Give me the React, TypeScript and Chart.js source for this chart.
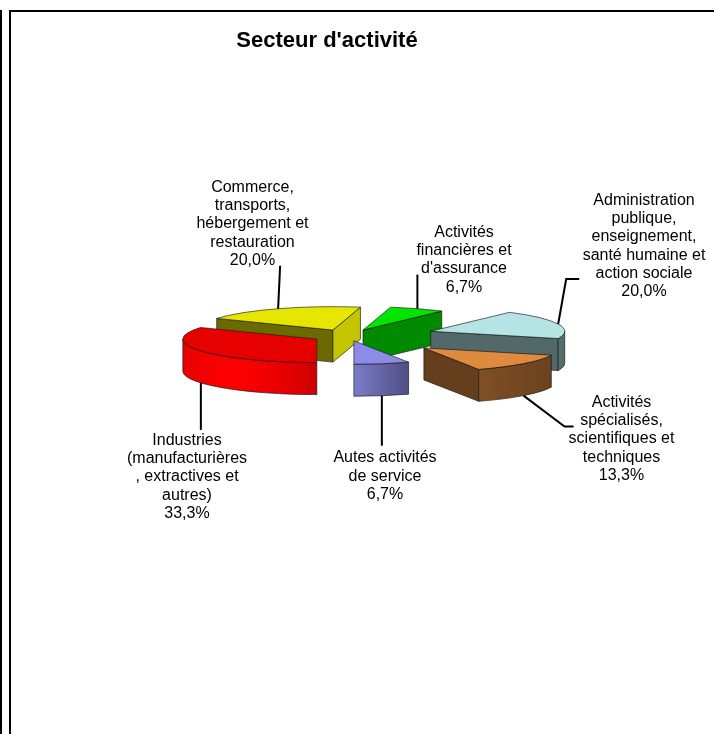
import React, { useEffect, useRef } from "react";
import { Chart, registerables } from "chart.js";

Chart.register(...registerables);

const categories = [
  ["Industries", "(manufacturières", ", extractives et", "autres)"],
  ["Commerce,", "transports,", "hébergement et", "restauration"],
  ["Activités", "financières et", "d'assurance"],
  ["Administration", "publique,", "enseignement,", "santé humaine et", "action sociale"],
  ["Activités", "spécialisés,", "scientifiques et", "techniques"],
  ["Autes activités", "de service"],
];
const shares = [33.3, 20.0, 6.7, 20.0, 13.3, 6.7];
const topColors = ["#e60000", "#e6e600", "#00e600", "#b4e4e4", "#e08a40", "#8c8ce6"];
const explode = [36, 37, 37, 87, 102, 28];
const startWallShade = [0, 0.46, 0, 0, 0, 0];
const endWallShade = [0, 0.85, 0.6, 0.46, 0.45, 0];
const drawOrder = [1, 2, 3, 0, 4, 5];
const labelCentres = [187, 252.5, 464, 644, 621.5, 385];
const labelFirstLine = [440.5, 187.5, 232.5, 200.5, 402.5, 458];
const leaderPaths = [
  [[0, 47]],
  [[2, -43]],
  [[0, -34]],
  [[8, -45], [21, -45]],
  [[41, 31], [50, 31]],
  [[0, 50]],
];

const SQUASH = 0.175;
const DEPTH = 32;
const LINE_H = 18.2;
const FONT = "'Liberation Sans', Arial, sans-serif";
const lightStops = [[-1, 1.0], [-0.65, 1.11], [-0.2, 1.0], [0, 0.88], [0.4, 0.57], [1, 0.47]];

function shade(hex: string, f: number) {
  const n = parseInt(hex.slice(1), 16);
  const c = [(n >> 16) & 255, (n >> 8) & 255, n & 255].map((v) => Math.min(255, Math.round(v * f)));
  return `rgb(${c[0]},${c[1]},${c[2]})`;
}

function light(nx: number) {
  for (let i = 1; i < lightStops.length; i++) {
    const [x0, y0] = lightStops[i - 1];
    const [x1, y1] = lightStops[i];
    if (nx <= x1) return y0 + ((y1 - y0) * (nx - x0)) / (x1 - x0);
  }
  return lightStops[lightStops.length - 1][1];
}

function frontRanges(a0: number, a1: number) {
  const out: number[][] = [];
  for (const base of [0, 2 * Math.PI]) {
    const s = Math.max(a0, base);
    const e = Math.min(a1, base + Math.PI);
    if (e - s > 0.001) out.push([s, e]);
  }
  return out;
}

function geometry(arc: any, i: number) {
  const mid = (arc.startAngle + arc.endAngle) / 2;
  const ax = arc.x + explode[i] * Math.cos(mid);
  const ay = arc.y + explode[i] * Math.sin(mid) * SQUASH;
  const R = arc.outerRadius;
  const at = (a: number, z = 0) => [ax + R * Math.cos(a), ay + R * SQUASH * Math.sin(a) + z];
  return { mid, ax, ay, R, at };
}

const pie3d = {
  id: "pie3d",
  afterLayout(chart: any) {
    chart.titleBlock.left = 177;
    chart.titleBlock.right = 477;
  },
  beforeDraw(chart: any) {
    const { ctx } = chart;
    ctx.save();
    ctx.fillStyle = "#000";
    ctx.fillRect(0, 10, 2, 724);
    ctx.fillRect(9, 10, 2, 724);
    ctx.fillRect(9, 10, 705, 2);
    ctx.restore();
  },
  beforeDatasetsDraw(chart: any) {
    const { ctx } = chart;
    const arcs = chart.getDatasetMeta(0).data;
    ctx.save();
    ctx.lineJoin = "round";
    ctx.lineWidth = 0.8;
    ctx.strokeStyle = "rgba(20,20,20,0.8)";
    for (const i of drawOrder) {
      const arc = arcs[i];
      const { ax, ay, R, at } = geometry(arc, i);
      const a0 = arc.startAngle;
      const a1 = arc.endAngle;
      const col = topColors[i];
      const wall = (a: number, f: number) => {
        const p = at(a);
        ctx.beginPath();
        ctx.moveTo(ax, ay);
        ctx.lineTo(p[0], p[1]);
        ctx.lineTo(p[0], p[1] + DEPTH);
        ctx.lineTo(ax, ay + DEPTH);
        ctx.closePath();
        ctx.fillStyle = shade(col, f);
        ctx.fill();
        ctx.stroke();
      };
      if (Math.cos(a0) < -0.01) wall(a0, startWallShade[i]);
      if (Math.cos(a1) > 0.01) wall(a1, endWallShade[i]);
      for (const [s, e] of frontRanges(a0, a1)) {
        const xL = at(e)[0];
        const xR = at(s)[0];
        const g = ctx.createLinearGradient(xL, 0, xR, 0);
        for (let k = 0; k <= 10; k++) {
          const a = e + ((s - e) * k) / 10;
          g.addColorStop(Math.min(1, Math.max(0, (at(a)[0] - xL) / (xR - xL))), shade(col, light(Math.cos(a))));
        }
        ctx.beginPath();
        ctx.ellipse(ax, ay, R, R * SQUASH, 0, s, e);
        ctx.ellipse(ax, ay + DEPTH, R, R * SQUASH, 0, e, s, true);
        ctx.closePath();
        ctx.fillStyle = g;
        ctx.fill();
        ctx.stroke();
      }
      ctx.beginPath();
      ctx.moveTo(ax, ay);
      ctx.ellipse(ax, ay, R, R * SQUASH, 0, a0, a1);
      ctx.closePath();
      ctx.fillStyle = col;
      ctx.fill();
      ctx.stroke();
    }
    ctx.restore();
    return false;
  },
  afterDraw(chart: any) {
    const { ctx } = chart;
    const arcs = chart.getDatasetMeta(0).data;
    ctx.save();
    ctx.strokeStyle = "#000";
    ctx.lineWidth = 2;
    ctx.fillStyle = "#000";
    ctx.font = `16px ${FONT}`;
    ctx.textAlign = "center";
    ctx.textBaseline = "middle";
    arcs.forEach((arc: any, i: number) => {
      const { mid, at } = geometry(arc, i);
      const start = at(mid, Math.sin(mid) > 0 ? DEPTH : 0);
      ctx.beginPath();
      ctx.moveTo(start[0], start[1]);
      for (const [dx, dy] of leaderPaths[i]) ctx.lineTo(start[0] + dx, start[1] + dy);
      ctx.stroke();
      const lines = [...categories[i], shares[i].toFixed(1).replace(".", ",") + "%"];
      lines.forEach((t, k) => ctx.fillText(t, labelCentres[i], labelFirstLine[i] + k * LINE_H));
    });
    ctx.restore();
  },
};

export default function App() {
  const ref = useRef<HTMLCanvasElement>(null);
  useEffect(() => {
    const chart = new Chart(ref.current as HTMLCanvasElement, {
      type: "pie",
      data: {
        labels: categories.map((c) => c.join(" ")),
        datasets: [
          {
            data: shares,
            backgroundColor: topColors,
            offset: explode,
            radius: 134,
            hoverOffset: 0,
          } as any,
        ],
      },
      options: {
        responsive: false,
        animation: false,
        rotation: 180,
        events: [],
        layout: { padding: { left: 0, right: 18, top: 0, bottom: 116.4 } },
        plugins: {
          legend: { display: false },
          tooltip: { enabled: false },
          title: {
            display: true,
            text: "Secteur d'activité",
            color: "#000",
            font: { family: FONT, size: 22, weight: "bold" },
            padding: { top: 28, bottom: 0 },
          },
        },
      } as any,
      plugins: [pie3d as any],
    });
    return () => chart.destroy();
  }, []);
  return (
    <canvas
      ref={ref}
      width={714}
      height={734}
      style={{ position: "absolute", left: 0, top: 0, width: 714, height: 734 }}
    />
  );
}
